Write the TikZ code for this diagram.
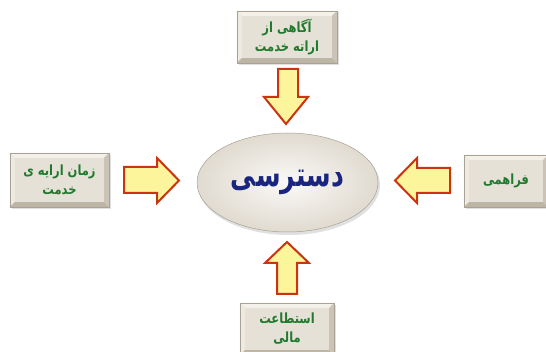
\documentclass[tikz,border=0pt]{standalone}
\usepackage{fontspec}
\TeXXeTstate=1
\newfontfamily\arabicfont[Script=Arabic]{DejaVu Sans}
\usetikzlibrary{calc,shapes.geometric}
\definecolor{boxmid}{HTML}{E6E1D6}
\definecolor{boxtop}{HTML}{F4F1EB}
\definecolor{boxleft}{HTML}{EEEAE2}
\definecolor{boxbot}{HTML}{BDB5A6}
\definecolor{boxright}{HTML}{CBC4B6}
\definecolor{boxline}{HTML}{A8A294}
\definecolor{txtgreen}{HTML}{1F7A2E}
\definecolor{txtblue}{HTML}{1A2580}
\definecolor{arrfill}{HTML}{FDF59C}
\definecolor{arrline}{HTML}{CC3310}
\definecolor{ellfill}{HTML}{E9E4DA}
\newcommand{\tall}[1]{\scalebox{1}[1.22]{#1}}
\tikzset{
  bevelbox/.style={fill=boxmid, draw=none, inner sep=0pt, align=center,
    font=\arabicfont\bfseries\fontsize{11.5}{19}\selectfont, text=txtgreen},
  blockarrow/.style={fill=arrfill, draw=arrline, line width=2pt, line join=miter},
}
\newcommand{\mybevel}[1]{%
  \fill[boxtop] (#1.north west) -- (#1.north east) -- ($(#1.north east)+(-5,5)$) -- ($(#1.north west)+(5,5)$) -- cycle;
  \fill[boxleft] (#1.north west) -- (#1.south west) -- ($(#1.south west)+(5,-5)$) -- ($(#1.north west)+(5,5)$) -- cycle;
  \fill[boxbot] (#1.south west) -- (#1.south east) -- ($(#1.south east)+(-5,-5)$) -- ($(#1.south west)+(5,-5)$) -- cycle;
  \fill[boxright] (#1.north east) -- (#1.south east) -- ($(#1.south east)+(-5,-5)$) -- ($(#1.north east)+(-5,5)$) -- cycle;
  \draw[boxline, line width=0.5pt] (#1.north west) rectangle (#1.south east);
}
\begin{document}
\begin{tikzpicture}[x=1pt,y=-1pt]
\useasboundingbox (0,0) rectangle (546,352);
\clip (0,0) rectangle (546,352);
\fill[white] (0,0) rectangle (546,352);
% shadows
\fill[black!12] (239,12) rectangle (339,65);
\fill[black!12] (12,155) rectangle (111,209);
\fill[black!12] (466,157) rectangle (548,209);
\fill[black!12] (242,305) rectangle (336,357);
% boxes
\node[bevelbox, minimum width=100, minimum height=52] (top) at (287,37) {\tall{\beginR آگاهی از\endR}\\\tall{\beginR اراته خدمت\endR}};
\mybevel{top}
\node[bevelbox, minimum width=99, minimum height=54] (left) at (59.5,180) {\tall{\beginR زمان ارایه ی\endR}\\\tall{\beginR خدمت\endR}};
\mybevel{left}
\node[bevelbox, minimum width=84, minimum height=52] (right) at (506,181) {\tall{\beginR فراهمی\endR}};
\mybevel{right}
\node[bevelbox, minimum width=94, minimum height=52] (bottom) at (287,329) {\tall{\beginR استطاعت\endR}\\\tall{\beginR مالی\endR}};
\mybevel{bottom}
% ellipse
\fill[black!12] (289,185) ellipse [x radius=91, y radius=50];
\node[draw=boxline, line width=0.5pt, inner color=white!60!boxtop, outer color=ellfill!80!boxbot,
  minimum width=181, minimum height=99, shape=ellipse, inner sep=0pt] (center) at (287.5,182.5) {};
\node[text=txtblue, font=\arabicfont\bfseries\fontsize{25}{30}\selectfont] (centertext) at (center) {\scalebox{1}[1.35]{\beginR دسترسی\endR}};
% arrows
\draw[blockarrow] (278,69) -- (298,69) -- (298,97) -- (308,97) -- (286,124) -- (264,97) -- (278,97) -- cycle;
\draw[blockarrow] (124,167) -- (157,167) -- (157,158) -- (179,180.5) -- (157,203) -- (157,193) -- (124,193) -- cycle;
\draw[blockarrow] (450,168) -- (417,168) -- (417,158) -- (395,180.5) -- (417,203) -- (417,193) -- (450,193) -- cycle;
\draw[blockarrow] (277,294) -- (297,294) -- (297,263) -- (309,263) -- (287,242) -- (265,263) -- (277,263) -- cycle;
\end{tikzpicture}
\end{document}
